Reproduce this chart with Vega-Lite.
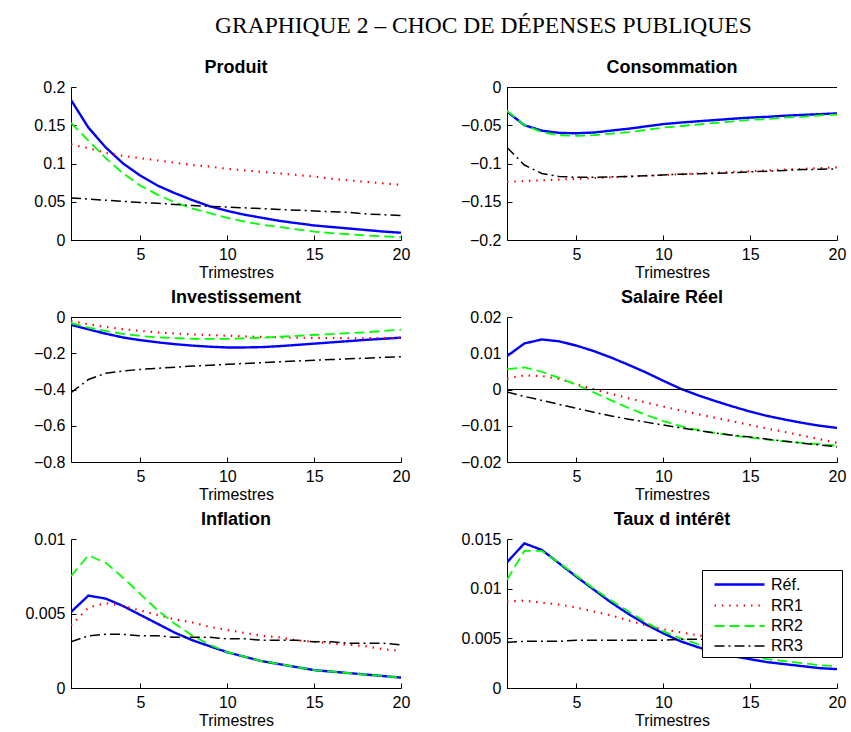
{
  "$schema": "https://vega.github.io/schema/vega-lite/v6.json",
  "background": "white",
  "padding": {"left": 24, "top": 13, "right": 5, "bottom": 2},
  "title": {"text": "GRAPHIQUE 2 – CHOC DE DÉPENSES PUBLIQUES", "font": "Liberation Serif", "fontSize": 23.5, "fontWeight": "normal", "color": "black", "anchor": "middle", "offset": 22, "dx": 48},
  "datasets": {
    "d": [
      {"panel":"Produit","serie":"Réf.","t":1,"v":0.183},{"panel":"Produit","serie":"Réf.","t":2,"v":0.147},{"panel":"Produit","serie":"Réf.","t":3,"v":0.121},{"panel":"Produit","serie":"Réf.","t":4,"v":0.100},{"panel":"Produit","serie":"Réf.","t":5,"v":0.084},{"panel":"Produit","serie":"Réf.","t":6,"v":0.071},{"panel":"Produit","serie":"Réf.","t":7,"v":0.061},{"panel":"Produit","serie":"Réf.","t":8,"v":0.052},{"panel":"Produit","serie":"Réf.","t":9,"v":0.044},{"panel":"Produit","serie":"Réf.","t":10,"v":0.038},{"panel":"Produit","serie":"Réf.","t":11,"v":0.033},{"panel":"Produit","serie":"Réf.","t":12,"v":0.029},{"panel":"Produit","serie":"Réf.","t":13,"v":0.025},{"panel":"Produit","serie":"Réf.","t":14,"v":0.022},{"panel":"Produit","serie":"Réf.","t":15,"v":0.019},{"panel":"Produit","serie":"Réf.","t":16,"v":0.017},{"panel":"Produit","serie":"Réf.","t":17,"v":0.015},{"panel":"Produit","serie":"Réf.","t":18,"v":0.013},{"panel":"Produit","serie":"Réf.","t":19,"v":0.011},{"panel":"Produit","serie":"Réf.","t":20,"v":0.0095},
      {"panel":"Produit","serie":"RR1","t":1,"v":0.125},{"panel":"Produit","serie":"RR1","t":2,"v":0.120},{"panel":"Produit","serie":"RR1","t":3,"v":0.114},{"panel":"Produit","serie":"RR1","t":4,"v":0.110},{"panel":"Produit","serie":"RR1","t":5,"v":0.107},{"panel":"Produit","serie":"RR1","t":6,"v":0.104},{"panel":"Produit","serie":"RR1","t":7,"v":0.101},{"panel":"Produit","serie":"RR1","t":8,"v":0.098},{"panel":"Produit","serie":"RR1","t":9,"v":0.096},{"panel":"Produit","serie":"RR1","t":10,"v":0.093},{"panel":"Produit","serie":"RR1","t":11,"v":0.091},{"panel":"Produit","serie":"RR1","t":12,"v":0.089},{"panel":"Produit","serie":"RR1","t":13,"v":0.087},{"panel":"Produit","serie":"RR1","t":14,"v":0.085},{"panel":"Produit","serie":"RR1","t":15,"v":0.083},{"panel":"Produit","serie":"RR1","t":16,"v":0.080},{"panel":"Produit","serie":"RR1","t":17,"v":0.078},{"panel":"Produit","serie":"RR1","t":18,"v":0.076},{"panel":"Produit","serie":"RR1","t":19,"v":0.074},{"panel":"Produit","serie":"RR1","t":20,"v":0.072},
      {"panel":"Produit","serie":"RR2","t":1,"v":0.153},{"panel":"Produit","serie":"RR2","t":2,"v":0.130},{"panel":"Produit","serie":"RR2","t":3,"v":0.107},{"panel":"Produit","serie":"RR2","t":4,"v":0.087},{"panel":"Produit","serie":"RR2","t":5,"v":0.071},{"panel":"Produit","serie":"RR2","t":6,"v":0.059},{"panel":"Produit","serie":"RR2","t":7,"v":0.049},{"panel":"Produit","serie":"RR2","t":8,"v":0.041},{"panel":"Produit","serie":"RR2","t":9,"v":0.035},{"panel":"Produit","serie":"RR2","t":10,"v":0.029},{"panel":"Produit","serie":"RR2","t":11,"v":0.024},{"panel":"Produit","serie":"RR2","t":12,"v":0.020},{"panel":"Produit","serie":"RR2","t":13,"v":0.017},{"panel":"Produit","serie":"RR2","t":14,"v":0.014},{"panel":"Produit","serie":"RR2","t":15,"v":0.011},{"panel":"Produit","serie":"RR2","t":16,"v":0.009},{"panel":"Produit","serie":"RR2","t":17,"v":0.0075},{"panel":"Produit","serie":"RR2","t":18,"v":0.006},{"panel":"Produit","serie":"RR2","t":19,"v":0.0047},{"panel":"Produit","serie":"RR2","t":20,"v":0.0035},
      {"panel":"Produit","serie":"RR3","t":1,"v":0.055},{"panel":"Produit","serie":"RR3","t":2,"v":0.0535},{"panel":"Produit","serie":"RR3","t":3,"v":0.052},{"panel":"Produit","serie":"RR3","t":4,"v":0.0505},{"panel":"Produit","serie":"RR3","t":5,"v":0.049},{"panel":"Produit","serie":"RR3","t":6,"v":0.048},{"panel":"Produit","serie":"RR3","t":7,"v":0.0465},{"panel":"Produit","serie":"RR3","t":8,"v":0.045},{"panel":"Produit","serie":"RR3","t":9,"v":0.044},{"panel":"Produit","serie":"RR3","t":10,"v":0.043},{"panel":"Produit","serie":"RR3","t":11,"v":0.042},{"panel":"Produit","serie":"RR3","t":12,"v":0.041},{"panel":"Produit","serie":"RR3","t":13,"v":0.040},{"panel":"Produit","serie":"RR3","t":14,"v":0.039},{"panel":"Produit","serie":"RR3","t":15,"v":0.038},{"panel":"Produit","serie":"RR3","t":16,"v":0.037},{"panel":"Produit","serie":"RR3","t":17,"v":0.036},{"panel":"Produit","serie":"RR3","t":18,"v":0.034},{"panel":"Produit","serie":"RR3","t":19,"v":0.033},{"panel":"Produit","serie":"RR3","t":20,"v":0.032},

      {"panel":"Consommation","serie":"Réf.","t":1,"v":-0.032},{"panel":"Consommation","serie":"Réf.","t":2,"v":-0.050},{"panel":"Consommation","serie":"Réf.","t":3,"v":-0.057},{"panel":"Consommation","serie":"Réf.","t":4,"v":-0.060},{"panel":"Consommation","serie":"Réf.","t":5,"v":-0.0605},{"panel":"Consommation","serie":"Réf.","t":6,"v":-0.0595},{"panel":"Consommation","serie":"Réf.","t":7,"v":-0.057},{"panel":"Consommation","serie":"Réf.","t":8,"v":-0.0545},{"panel":"Consommation","serie":"Réf.","t":9,"v":-0.0515},{"panel":"Consommation","serie":"Réf.","t":10,"v":-0.0485},{"panel":"Consommation","serie":"Réf.","t":11,"v":-0.0465},{"panel":"Consommation","serie":"Réf.","t":12,"v":-0.0448},{"panel":"Consommation","serie":"Réf.","t":13,"v":-0.0432},{"panel":"Consommation","serie":"Réf.","t":14,"v":-0.0415},{"panel":"Consommation","serie":"Réf.","t":15,"v":-0.040},{"panel":"Consommation","serie":"Réf.","t":16,"v":-0.039},{"panel":"Consommation","serie":"Réf.","t":17,"v":-0.0375},{"panel":"Consommation","serie":"Réf.","t":18,"v":-0.0365},{"panel":"Consommation","serie":"Réf.","t":19,"v":-0.0355},{"panel":"Consommation","serie":"Réf.","t":20,"v":-0.0345},
      {"panel":"Consommation","serie":"RR1","t":1,"v":-0.124},{"panel":"Consommation","serie":"RR1","t":2,"v":-0.123},{"panel":"Consommation","serie":"RR1","t":3,"v":-0.122},{"panel":"Consommation","serie":"RR1","t":4,"v":-0.121},{"panel":"Consommation","serie":"RR1","t":5,"v":-0.120},{"panel":"Consommation","serie":"RR1","t":6,"v":-0.119},{"panel":"Consommation","serie":"RR1","t":7,"v":-0.118},{"panel":"Consommation","serie":"RR1","t":8,"v":-0.117},{"panel":"Consommation","serie":"RR1","t":9,"v":-0.116},{"panel":"Consommation","serie":"RR1","t":10,"v":-0.115},{"panel":"Consommation","serie":"RR1","t":11,"v":-0.114},{"panel":"Consommation","serie":"RR1","t":12,"v":-0.113},{"panel":"Consommation","serie":"RR1","t":13,"v":-0.112},{"panel":"Consommation","serie":"RR1","t":14,"v":-0.111},{"panel":"Consommation","serie":"RR1","t":15,"v":-0.110},{"panel":"Consommation","serie":"RR1","t":16,"v":-0.109},{"panel":"Consommation","serie":"RR1","t":17,"v":-0.108},{"panel":"Consommation","serie":"RR1","t":18,"v":-0.107},{"panel":"Consommation","serie":"RR1","t":19,"v":-0.106},{"panel":"Consommation","serie":"RR1","t":20,"v":-0.105},
      {"panel":"Consommation","serie":"RR2","t":1,"v":-0.031},{"panel":"Consommation","serie":"RR2","t":2,"v":-0.050},{"panel":"Consommation","serie":"RR2","t":3,"v":-0.059},{"panel":"Consommation","serie":"RR2","t":4,"v":-0.063},{"panel":"Consommation","serie":"RR2","t":5,"v":-0.064},{"panel":"Consommation","serie":"RR2","t":6,"v":-0.063},{"panel":"Consommation","serie":"RR2","t":7,"v":-0.061},{"panel":"Consommation","serie":"RR2","t":8,"v":-0.059},{"panel":"Consommation","serie":"RR2","t":9,"v":-0.056},{"panel":"Consommation","serie":"RR2","t":10,"v":-0.053},{"panel":"Consommation","serie":"RR2","t":11,"v":-0.051},{"panel":"Consommation","serie":"RR2","t":12,"v":-0.049},{"panel":"Consommation","serie":"RR2","t":13,"v":-0.047},{"panel":"Consommation","serie":"RR2","t":14,"v":-0.045},{"panel":"Consommation","serie":"RR2","t":15,"v":-0.043},{"panel":"Consommation","serie":"RR2","t":16,"v":-0.042},{"panel":"Consommation","serie":"RR2","t":17,"v":-0.040},{"panel":"Consommation","serie":"RR2","t":18,"v":-0.039},{"panel":"Consommation","serie":"RR2","t":19,"v":-0.037},{"panel":"Consommation","serie":"RR2","t":20,"v":-0.036},
      {"panel":"Consommation","serie":"RR3","t":1,"v":-0.079},{"panel":"Consommation","serie":"RR3","t":2,"v":-0.102},{"panel":"Consommation","serie":"RR3","t":3,"v":-0.113},{"panel":"Consommation","serie":"RR3","t":4,"v":-0.117},{"panel":"Consommation","serie":"RR3","t":5,"v":-0.118},{"panel":"Consommation","serie":"RR3","t":6,"v":-0.118},{"panel":"Consommation","serie":"RR3","t":7,"v":-0.1175},{"panel":"Consommation","serie":"RR3","t":8,"v":-0.117},{"panel":"Consommation","serie":"RR3","t":9,"v":-0.116},{"panel":"Consommation","serie":"RR3","t":10,"v":-0.115},{"panel":"Consommation","serie":"RR3","t":11,"v":-0.114},{"panel":"Consommation","serie":"RR3","t":12,"v":-0.1135},{"panel":"Consommation","serie":"RR3","t":13,"v":-0.113},{"panel":"Consommation","serie":"RR3","t":14,"v":-0.112},{"panel":"Consommation","serie":"RR3","t":15,"v":-0.111},{"panel":"Consommation","serie":"RR3","t":16,"v":-0.110},{"panel":"Consommation","serie":"RR3","t":17,"v":-0.109},{"panel":"Consommation","serie":"RR3","t":18,"v":-0.108},{"panel":"Consommation","serie":"RR3","t":19,"v":-0.1075},{"panel":"Consommation","serie":"RR3","t":20,"v":-0.107},

      {"panel":"Investissement","serie":"Réf.","t":1,"v":-0.044},{"panel":"Investissement","serie":"Réf.","t":2,"v":-0.068},{"panel":"Investissement","serie":"Réf.","t":3,"v":-0.092},{"panel":"Investissement","serie":"Réf.","t":4,"v":-0.113},{"panel":"Investissement","serie":"Réf.","t":5,"v":-0.128},{"panel":"Investissement","serie":"Réf.","t":6,"v":-0.140},{"panel":"Investissement","serie":"Réf.","t":7,"v":-0.150},{"panel":"Investissement","serie":"Réf.","t":8,"v":-0.158},{"panel":"Investissement","serie":"Réf.","t":9,"v":-0.164},{"panel":"Investissement","serie":"Réf.","t":10,"v":-0.168},{"panel":"Investissement","serie":"Réf.","t":11,"v":-0.168},{"panel":"Investissement","serie":"Réf.","t":12,"v":-0.166},{"panel":"Investissement","serie":"Réf.","t":13,"v":-0.161},{"panel":"Investissement","serie":"Réf.","t":14,"v":-0.154},{"panel":"Investissement","serie":"Réf.","t":15,"v":-0.147},{"panel":"Investissement","serie":"Réf.","t":16,"v":-0.140},{"panel":"Investissement","serie":"Réf.","t":17,"v":-0.133},{"panel":"Investissement","serie":"Réf.","t":18,"v":-0.126},{"panel":"Investissement","serie":"Réf.","t":19,"v":-0.120},{"panel":"Investissement","serie":"Réf.","t":20,"v":-0.114},
      {"panel":"Investissement","serie":"RR1","t":1,"v":-0.022},{"panel":"Investissement","serie":"RR1","t":2,"v":-0.040},{"panel":"Investissement","serie":"RR1","t":3,"v":-0.055},{"panel":"Investissement","serie":"RR1","t":4,"v":-0.067},{"panel":"Investissement","serie":"RR1","t":5,"v":-0.077},{"panel":"Investissement","serie":"RR1","t":6,"v":-0.085},{"panel":"Investissement","serie":"RR1","t":7,"v":-0.091},{"panel":"Investissement","serie":"RR1","t":8,"v":-0.096},{"panel":"Investissement","serie":"RR1","t":9,"v":-0.100},{"panel":"Investissement","serie":"RR1","t":10,"v":-0.103},{"panel":"Investissement","serie":"RR1","t":11,"v":-0.107},{"panel":"Investissement","serie":"RR1","t":12,"v":-0.110},{"panel":"Investissement","serie":"RR1","t":13,"v":-0.112},{"panel":"Investissement","serie":"RR1","t":14,"v":-0.114},{"panel":"Investissement","serie":"RR1","t":15,"v":-0.115},{"panel":"Investissement","serie":"RR1","t":16,"v":-0.116},{"panel":"Investissement","serie":"RR1","t":17,"v":-0.117},{"panel":"Investissement","serie":"RR1","t":18,"v":-0.117},{"panel":"Investissement","serie":"RR1","t":19,"v":-0.116},{"panel":"Investissement","serie":"RR1","t":20,"v":-0.115},
      {"panel":"Investissement","serie":"RR2","t":1,"v":-0.033},{"panel":"Investissement","serie":"RR2","t":2,"v":-0.058},{"panel":"Investissement","serie":"RR2","t":3,"v":-0.077},{"panel":"Investissement","serie":"RR2","t":4,"v":-0.093},{"panel":"Investissement","serie":"RR2","t":5,"v":-0.105},{"panel":"Investissement","serie":"RR2","t":6,"v":-0.112},{"panel":"Investissement","serie":"RR2","t":7,"v":-0.117},{"panel":"Investissement","serie":"RR2","t":8,"v":-0.120},{"panel":"Investissement","serie":"RR2","t":9,"v":-0.121},{"panel":"Investissement","serie":"RR2","t":10,"v":-0.121},{"panel":"Investissement","serie":"RR2","t":11,"v":-0.118},{"panel":"Investissement","serie":"RR2","t":12,"v":-0.114},{"panel":"Investissement","serie":"RR2","t":13,"v":-0.109},{"panel":"Investissement","serie":"RR2","t":14,"v":-0.104},{"panel":"Investissement","serie":"RR2","t":15,"v":-0.098},{"panel":"Investissement","serie":"RR2","t":16,"v":-0.094},{"panel":"Investissement","serie":"RR2","t":17,"v":-0.089},{"panel":"Investissement","serie":"RR2","t":18,"v":-0.084},{"panel":"Investissement","serie":"RR2","t":19,"v":-0.077},{"panel":"Investissement","serie":"RR2","t":20,"v":-0.070},
      {"panel":"Investissement","serie":"RR3","t":1,"v":-0.418},{"panel":"Investissement","serie":"RR3","t":2,"v":-0.345},{"panel":"Investissement","serie":"RR3","t":3,"v":-0.310},{"panel":"Investissement","serie":"RR3","t":4,"v":-0.298},{"panel":"Investissement","serie":"RR3","t":5,"v":-0.289},{"panel":"Investissement","serie":"RR3","t":6,"v":-0.283},{"panel":"Investissement","serie":"RR3","t":7,"v":-0.277},{"panel":"Investissement","serie":"RR3","t":8,"v":-0.271},{"panel":"Investissement","serie":"RR3","t":9,"v":-0.266},{"panel":"Investissement","serie":"RR3","t":10,"v":-0.261},{"panel":"Investissement","serie":"RR3","t":11,"v":-0.256},{"panel":"Investissement","serie":"RR3","t":12,"v":-0.252},{"panel":"Investissement","serie":"RR3","t":13,"v":-0.247},{"panel":"Investissement","serie":"RR3","t":14,"v":-0.243},{"panel":"Investissement","serie":"RR3","t":15,"v":-0.239},{"panel":"Investissement","serie":"RR3","t":16,"v":-0.235},{"panel":"Investissement","serie":"RR3","t":17,"v":-0.231},{"panel":"Investissement","serie":"RR3","t":18,"v":-0.227},{"panel":"Investissement","serie":"RR3","t":19,"v":-0.223},{"panel":"Investissement","serie":"RR3","t":20,"v":-0.219},

      {"panel":"Salaire Réel","serie":"Réf.","t":1,"v":0.0092},{"panel":"Salaire Réel","serie":"Réf.","t":2,"v":0.0127},{"panel":"Salaire Réel","serie":"Réf.","t":3,"v":0.0138},{"panel":"Salaire Réel","serie":"Réf.","t":4,"v":0.0133},{"panel":"Salaire Réel","serie":"Réf.","t":5,"v":0.0121},{"panel":"Salaire Réel","serie":"Réf.","t":6,"v":0.0106},{"panel":"Salaire Réel","serie":"Réf.","t":7,"v":0.0088},{"panel":"Salaire Réel","serie":"Réf.","t":8,"v":0.0068},{"panel":"Salaire Réel","serie":"Réf.","t":9,"v":0.0047},{"panel":"Salaire Réel","serie":"Réf.","t":10,"v":0.0024},{"panel":"Salaire Réel","serie":"Réf.","t":11,"v":0.0002},{"panel":"Salaire Réel","serie":"Réf.","t":12,"v":-0.0016},{"panel":"Salaire Réel","serie":"Réf.","t":13,"v":-0.0032},{"panel":"Salaire Réel","serie":"Réf.","t":14,"v":-0.0047},{"panel":"Salaire Réel","serie":"Réf.","t":15,"v":-0.0061},{"panel":"Salaire Réel","serie":"Réf.","t":16,"v":-0.0073},{"panel":"Salaire Réel","serie":"Réf.","t":17,"v":-0.0083},{"panel":"Salaire Réel","serie":"Réf.","t":18,"v":-0.0092},{"panel":"Salaire Réel","serie":"Réf.","t":19,"v":-0.0100},{"panel":"Salaire Réel","serie":"Réf.","t":20,"v":-0.0106},
      {"panel":"Salaire Réel","serie":"RR1","t":1,"v":0.0030},{"panel":"Salaire Réel","serie":"RR1","t":2,"v":0.0039},{"panel":"Salaire Réel","serie":"RR1","t":3,"v":0.0037},{"panel":"Salaire Réel","serie":"RR1","t":4,"v":0.0029},{"panel":"Salaire Réel","serie":"RR1","t":5,"v":0.0015},{"panel":"Salaire Réel","serie":"RR1","t":6,"v":0.0001},{"panel":"Salaire Réel","serie":"RR1","t":7,"v":-0.0012},{"panel":"Salaire Réel","serie":"RR1","t":8,"v":-0.0024},{"panel":"Salaire Réel","serie":"RR1","t":9,"v":-0.0036},{"panel":"Salaire Réel","serie":"RR1","t":10,"v":-0.0047},{"panel":"Salaire Réel","serie":"RR1","t":11,"v":-0.0058},{"panel":"Salaire Réel","serie":"RR1","t":12,"v":-0.0068},{"panel":"Salaire Réel","serie":"RR1","t":13,"v":-0.0078},{"panel":"Salaire Réel","serie":"RR1","t":14,"v":-0.0088},{"panel":"Salaire Réel","serie":"RR1","t":15,"v":-0.0098},{"panel":"Salaire Réel","serie":"RR1","t":16,"v":-0.0108},{"panel":"Salaire Réel","serie":"RR1","t":17,"v":-0.0117},{"panel":"Salaire Réel","serie":"RR1","t":18,"v":-0.0127},{"panel":"Salaire Réel","serie":"RR1","t":19,"v":-0.0137},{"panel":"Salaire Réel","serie":"RR1","t":20,"v":-0.0147},
      {"panel":"Salaire Réel","serie":"RR2","t":1,"v":0.0056},{"panel":"Salaire Réel","serie":"RR2","t":2,"v":0.0061},{"panel":"Salaire Réel","serie":"RR2","t":3,"v":0.0049},{"panel":"Salaire Réel","serie":"RR2","t":4,"v":0.0032},{"panel":"Salaire Réel","serie":"RR2","t":5,"v":0.0013},{"panel":"Salaire Réel","serie":"RR2","t":6,"v":-0.0008},{"panel":"Salaire Réel","serie":"RR2","t":7,"v":-0.0030},{"panel":"Salaire Réel","serie":"RR2","t":8,"v":-0.0051},{"panel":"Salaire Réel","serie":"RR2","t":9,"v":-0.0070},{"panel":"Salaire Réel","serie":"RR2","t":10,"v":-0.0087},{"panel":"Salaire Réel","serie":"RR2","t":11,"v":-0.0101},{"panel":"Salaire Réel","serie":"RR2","t":12,"v":-0.0112},{"panel":"Salaire Réel","serie":"RR2","t":13,"v":-0.0120},{"panel":"Salaire Réel","serie":"RR2","t":14,"v":-0.0127},{"panel":"Salaire Réel","serie":"RR2","t":15,"v":-0.0133},{"panel":"Salaire Réel","serie":"RR2","t":16,"v":-0.0138},{"panel":"Salaire Réel","serie":"RR2","t":17,"v":-0.0143},{"panel":"Salaire Réel","serie":"RR2","t":18,"v":-0.0147},{"panel":"Salaire Réel","serie":"RR2","t":19,"v":-0.0151},{"panel":"Salaire Réel","serie":"RR2","t":20,"v":-0.0155},
      {"panel":"Salaire Réel","serie":"RR3","t":1,"v":-0.0007},{"panel":"Salaire Réel","serie":"RR3","t":2,"v":-0.0019},{"panel":"Salaire Réel","serie":"RR3","t":3,"v":-0.0030},{"panel":"Salaire Réel","serie":"RR3","t":4,"v":-0.0041},{"panel":"Salaire Réel","serie":"RR3","t":5,"v":-0.0052},{"panel":"Salaire Réel","serie":"RR3","t":6,"v":-0.0063},{"panel":"Salaire Réel","serie":"RR3","t":7,"v":-0.0073},{"panel":"Salaire Réel","serie":"RR3","t":8,"v":-0.0082},{"panel":"Salaire Réel","serie":"RR3","t":9,"v":-0.0090},{"panel":"Salaire Réel","serie":"RR3","t":10,"v":-0.0098},{"panel":"Salaire Réel","serie":"RR3","t":11,"v":-0.0106},{"panel":"Salaire Réel","serie":"RR3","t":12,"v":-0.0113},{"panel":"Salaire Réel","serie":"RR3","t":13,"v":-0.0120},{"panel":"Salaire Réel","serie":"RR3","t":14,"v":-0.0126},{"panel":"Salaire Réel","serie":"RR3","t":15,"v":-0.0131},{"panel":"Salaire Réel","serie":"RR3","t":16,"v":-0.0137},{"panel":"Salaire Réel","serie":"RR3","t":17,"v":-0.0143},{"panel":"Salaire Réel","serie":"RR3","t":18,"v":-0.0148},{"panel":"Salaire Réel","serie":"RR3","t":19,"v":-0.0153},{"panel":"Salaire Réel","serie":"RR3","t":20,"v":-0.0158},

      {"panel":"Inflation","serie":"Réf.","t":1,"v":0.0051},{"panel":"Inflation","serie":"Réf.","t":2,"v":0.0062},{"panel":"Inflation","serie":"Réf.","t":3,"v":0.0060},{"panel":"Inflation","serie":"Réf.","t":4,"v":0.0055},{"panel":"Inflation","serie":"Réf.","t":5,"v":0.0049},{"panel":"Inflation","serie":"Réf.","t":6,"v":0.0043},{"panel":"Inflation","serie":"Réf.","t":7,"v":0.0037},{"panel":"Inflation","serie":"Réf.","t":8,"v":0.0032},{"panel":"Inflation","serie":"Réf.","t":9,"v":0.0028},{"panel":"Inflation","serie":"Réf.","t":10,"v":0.0024},{"panel":"Inflation","serie":"Réf.","t":11,"v":0.0021},{"panel":"Inflation","serie":"Réf.","t":12,"v":0.0018},{"panel":"Inflation","serie":"Réf.","t":13,"v":0.0016},{"panel":"Inflation","serie":"Réf.","t":14,"v":0.0014},{"panel":"Inflation","serie":"Réf.","t":15,"v":0.0012},{"panel":"Inflation","serie":"Réf.","t":16,"v":0.0011},{"panel":"Inflation","serie":"Réf.","t":17,"v":0.0010},{"panel":"Inflation","serie":"Réf.","t":18,"v":0.0009},{"panel":"Inflation","serie":"Réf.","t":19,"v":0.0008},{"panel":"Inflation","serie":"Réf.","t":20,"v":0.0007},
      {"panel":"Inflation","serie":"RR1","t":1,"v":0.0042},{"panel":"Inflation","serie":"RR1","t":2,"v":0.0054},{"panel":"Inflation","serie":"RR1","t":3,"v":0.0057},{"panel":"Inflation","serie":"RR1","t":4,"v":0.0055},{"panel":"Inflation","serie":"RR1","t":5,"v":0.0052},{"panel":"Inflation","serie":"RR1","t":6,"v":0.0049},{"panel":"Inflation","serie":"RR1","t":7,"v":0.0046},{"panel":"Inflation","serie":"RR1","t":8,"v":0.0044},{"panel":"Inflation","serie":"RR1","t":9,"v":0.0041},{"panel":"Inflation","serie":"RR1","t":10,"v":0.0039},{"panel":"Inflation","serie":"RR1","t":11,"v":0.0037},{"panel":"Inflation","serie":"RR1","t":12,"v":0.0035},{"panel":"Inflation","serie":"RR1","t":13,"v":0.0034},{"panel":"Inflation","serie":"RR1","t":14,"v":0.0032},{"panel":"Inflation","serie":"RR1","t":15,"v":0.0031},{"panel":"Inflation","serie":"RR1","t":16,"v":0.0030},{"panel":"Inflation","serie":"RR1","t":17,"v":0.0029},{"panel":"Inflation","serie":"RR1","t":18,"v":0.0028},{"panel":"Inflation","serie":"RR1","t":19,"v":0.0026},{"panel":"Inflation","serie":"RR1","t":20,"v":0.0025},
      {"panel":"Inflation","serie":"RR2","t":1,"v":0.0075},{"panel":"Inflation","serie":"RR2","t":2,"v":0.0089},{"panel":"Inflation","serie":"RR2","t":3,"v":0.0084},{"panel":"Inflation","serie":"RR2","t":4,"v":0.0074},{"panel":"Inflation","serie":"RR2","t":5,"v":0.0063},{"panel":"Inflation","serie":"RR2","t":6,"v":0.0052},{"panel":"Inflation","serie":"RR2","t":7,"v":0.0043},{"panel":"Inflation","serie":"RR2","t":8,"v":0.0035},{"panel":"Inflation","serie":"RR2","t":9,"v":0.0029},{"panel":"Inflation","serie":"RR2","t":10,"v":0.0024},{"panel":"Inflation","serie":"RR2","t":11,"v":0.0021},{"panel":"Inflation","serie":"RR2","t":12,"v":0.0018},{"panel":"Inflation","serie":"RR2","t":13,"v":0.0016},{"panel":"Inflation","serie":"RR2","t":14,"v":0.0014},{"panel":"Inflation","serie":"RR2","t":15,"v":0.0012},{"panel":"Inflation","serie":"RR2","t":16,"v":0.0011},{"panel":"Inflation","serie":"RR2","t":17,"v":0.0010},{"panel":"Inflation","serie":"RR2","t":18,"v":0.0009},{"panel":"Inflation","serie":"RR2","t":19,"v":0.0008},{"panel":"Inflation","serie":"RR2","t":20,"v":0.0007},
      {"panel":"Inflation","serie":"RR3","t":1,"v":0.0031},{"panel":"Inflation","serie":"RR3","t":2,"v":0.0035},{"panel":"Inflation","serie":"RR3","t":3,"v":0.0036},{"panel":"Inflation","serie":"RR3","t":4,"v":0.0036},{"panel":"Inflation","serie":"RR3","t":5,"v":0.0035},{"panel":"Inflation","serie":"RR3","t":6,"v":0.0035},{"panel":"Inflation","serie":"RR3","t":7,"v":0.0034},{"panel":"Inflation","serie":"RR3","t":8,"v":0.0034},{"panel":"Inflation","serie":"RR3","t":9,"v":0.0034},{"panel":"Inflation","serie":"RR3","t":10,"v":0.0033},{"panel":"Inflation","serie":"RR3","t":11,"v":0.0033},{"panel":"Inflation","serie":"RR3","t":12,"v":0.0032},{"panel":"Inflation","serie":"RR3","t":13,"v":0.0032},{"panel":"Inflation","serie":"RR3","t":14,"v":0.0032},{"panel":"Inflation","serie":"RR3","t":15,"v":0.0031},{"panel":"Inflation","serie":"RR3","t":16,"v":0.0031},{"panel":"Inflation","serie":"RR3","t":17,"v":0.0030},{"panel":"Inflation","serie":"RR3","t":18,"v":0.0030},{"panel":"Inflation","serie":"RR3","t":19,"v":0.0030},{"panel":"Inflation","serie":"RR3","t":20,"v":0.0029},

      {"panel":"Taux d intérêt","serie":"Réf.","t":1,"v":0.01265},{"panel":"Taux d intérêt","serie":"Réf.","t":2,"v":0.01456},{"panel":"Taux d intérêt","serie":"Réf.","t":3,"v":0.0139},{"panel":"Taux d intérêt","serie":"Réf.","t":4,"v":0.01255},{"panel":"Taux d intérêt","serie":"Réf.","t":5,"v":0.0112},{"panel":"Taux d intérêt","serie":"Réf.","t":6,"v":0.0099},{"panel":"Taux d intérêt","serie":"Réf.","t":7,"v":0.0086},{"panel":"Taux d intérêt","serie":"Réf.","t":8,"v":0.00745},{"panel":"Taux d intérêt","serie":"Réf.","t":9,"v":0.0064},{"panel":"Taux d intérêt","serie":"Réf.","t":10,"v":0.0055},{"panel":"Taux d intérêt","serie":"Réf.","t":11,"v":0.0047},{"panel":"Taux d intérêt","serie":"Réf.","t":12,"v":0.0041},{"panel":"Taux d intérêt","serie":"Réf.","t":13,"v":0.0036},{"panel":"Taux d intérêt","serie":"Réf.","t":14,"v":0.0032},{"panel":"Taux d intérêt","serie":"Réf.","t":15,"v":0.0029},{"panel":"Taux d intérêt","serie":"Réf.","t":16,"v":0.0026},{"panel":"Taux d intérêt","serie":"Réf.","t":17,"v":0.0024},{"panel":"Taux d intérêt","serie":"Réf.","t":18,"v":0.0022},{"panel":"Taux d intérêt","serie":"Réf.","t":19,"v":0.0020},{"panel":"Taux d intérêt","serie":"Réf.","t":20,"v":0.0019},
      {"panel":"Taux d intérêt","serie":"RR1","t":1,"v":0.0087},{"panel":"Taux d intérêt","serie":"RR1","t":2,"v":0.0088},{"panel":"Taux d intérêt","serie":"RR1","t":3,"v":0.0086},{"panel":"Taux d intérêt","serie":"RR1","t":4,"v":0.0084},{"panel":"Taux d intérêt","serie":"RR1","t":5,"v":0.0081},{"panel":"Taux d intérêt","serie":"RR1","t":6,"v":0.0077},{"panel":"Taux d intérêt","serie":"RR1","t":7,"v":0.0073},{"panel":"Taux d intérêt","serie":"RR1","t":8,"v":0.0068},{"panel":"Taux d intérêt","serie":"RR1","t":9,"v":0.0063},{"panel":"Taux d intérêt","serie":"RR1","t":10,"v":0.0059},{"panel":"Taux d intérêt","serie":"RR1","t":11,"v":0.0056},{"panel":"Taux d intérêt","serie":"RR1","t":12,"v":0.0053},{"panel":"Taux d intérêt","serie":"RR1","t":13,"v":0.0051},{"panel":"Taux d intérêt","serie":"RR1","t":14,"v":0.0049},{"panel":"Taux d intérêt","serie":"RR1","t":15,"v":0.0047},{"panel":"Taux d intérêt","serie":"RR1","t":16,"v":0.0046},{"panel":"Taux d intérêt","serie":"RR1","t":17,"v":0.0045},{"panel":"Taux d intérêt","serie":"RR1","t":18,"v":0.0044},{"panel":"Taux d intérêt","serie":"RR1","t":19,"v":0.0043},{"panel":"Taux d intérêt","serie":"RR1","t":20,"v":0.0042},
      {"panel":"Taux d intérêt","serie":"RR2","t":1,"v":0.0109},{"panel":"Taux d intérêt","serie":"RR2","t":2,"v":0.0138},{"panel":"Taux d intérêt","serie":"RR2","t":3,"v":0.0138},{"panel":"Taux d intérêt","serie":"RR2","t":4,"v":0.0126},{"panel":"Taux d intérêt","serie":"RR2","t":5,"v":0.0113},{"panel":"Taux d intérêt","serie":"RR2","t":6,"v":0.0100},{"panel":"Taux d intérêt","serie":"RR2","t":7,"v":0.0088},{"panel":"Taux d intérêt","serie":"RR2","t":8,"v":0.0077},{"panel":"Taux d intérêt","serie":"RR2","t":9,"v":0.0066},{"panel":"Taux d intérêt","serie":"RR2","t":10,"v":0.0057},{"panel":"Taux d intérêt","serie":"RR2","t":11,"v":0.0050},{"panel":"Taux d intérêt","serie":"RR2","t":12,"v":0.0044},{"panel":"Taux d intérêt","serie":"RR2","t":13,"v":0.0039},{"panel":"Taux d intérêt","serie":"RR2","t":14,"v":0.0035},{"panel":"Taux d intérêt","serie":"RR2","t":15,"v":0.0032},{"panel":"Taux d intérêt","serie":"RR2","t":16,"v":0.0029},{"panel":"Taux d intérêt","serie":"RR2","t":17,"v":0.0027},{"panel":"Taux d intérêt","serie":"RR2","t":18,"v":0.0025},{"panel":"Taux d intérêt","serie":"RR2","t":19,"v":0.0023},{"panel":"Taux d intérêt","serie":"RR2","t":20,"v":0.0022},
      {"panel":"Taux d intérêt","serie":"RR3","t":1,"v":0.0046},{"panel":"Taux d intérêt","serie":"RR3","t":2,"v":0.0047},{"panel":"Taux d intérêt","serie":"RR3","t":3,"v":0.0047},{"panel":"Taux d intérêt","serie":"RR3","t":4,"v":0.0047},{"panel":"Taux d intérêt","serie":"RR3","t":5,"v":0.0048},{"panel":"Taux d intérêt","serie":"RR3","t":6,"v":0.0048},{"panel":"Taux d intérêt","serie":"RR3","t":7,"v":0.0048},{"panel":"Taux d intérêt","serie":"RR3","t":8,"v":0.0048},{"panel":"Taux d intérêt","serie":"RR3","t":9,"v":0.0048},{"panel":"Taux d intérêt","serie":"RR3","t":10,"v":0.0048},{"panel":"Taux d intérêt","serie":"RR3","t":11,"v":0.0049},{"panel":"Taux d intérêt","serie":"RR3","t":12,"v":0.0049},{"panel":"Taux d intérêt","serie":"RR3","t":13,"v":0.0049},{"panel":"Taux d intérêt","serie":"RR3","t":14,"v":0.0049},{"panel":"Taux d intérêt","serie":"RR3","t":15,"v":0.0049},{"panel":"Taux d intérêt","serie":"RR3","t":16,"v":0.0049},{"panel":"Taux d intérêt","serie":"RR3","t":17,"v":0.0049},{"panel":"Taux d intérêt","serie":"RR3","t":18,"v":0.0049},{"panel":"Taux d intérêt","serie":"RR3","t":19,"v":0.0049},{"panel":"Taux d intérêt","serie":"RR3","t":20,"v":0.0049}
    ]
  },
  "columns": 2,
  "spacing": {"row": 9, "column": 50},
  "concat": [
    {"title": "Produit", "width": 330, "height": 153, "layer": [
      {"data": {"name": "d"}, "transform": [{"filter": "datum.panel === 'Produit'"}], "mark": {"type": "line", "clip": true},
       "encoding": {
        "x": {"field": "t", "type": "quantitative", "scale": {"domain": [1, 20], "nice": false, "zero": false}, "axis": {"values": [5, 10, 15, 20], "title": "Trimestres"}},
        "y": {"field": "v", "type": "quantitative", "scale": {"domain": [0, 0.2], "nice": false, "zero": false}, "axis": {"values": [0, 0.05, 0.1, 0.15, 0.2], "title": null, "format": ".3~g"}},
        "color": {"field": "serie", "type": "nominal", "scale": {"domain": ["Réf.", "RR1", "RR2", "RR3"], "range": ["#0000ff", "#ff0000", "#00ff00", "#000000"]}, "legend": {"orient": "none", "legendX": 631, "legendY": 483, "title": null}},
        "strokeDash": {"field": "serie", "type": "nominal", "scale": {"domain": ["Réf.", "RR1", "RR2", "RR3"], "range": [[1, 0], [1.5, 5.8], [10, 5], [10, 4, 2, 4]]}, "legend": {"orient": "none", "legendX": 631, "legendY": 483, "title": null}},
        "strokeWidth": {"field": "serie", "type": "nominal", "scale": {"domain": ["Réf.", "RR1", "RR2", "RR3"], "range": [2.4, 1.5, 2.4, 2]}, "legend": null}
       }},
      {"data": {"values": [{}]}, "mark": {"type": "rule", "color": "black", "strokeWidth": 1, "yOffset": 0.5}, "encoding": {"y": {"datum": 0, "type": "quantitative", "axis": {"values": [0, 0.05, 0.1, 0.15, 0.2], "title": null, "format": ".3~g"}}}}
    ]},
    {"title": "Consommation", "width": 330, "height": 153, "layer": [
      {"data": {"name": "d"}, "transform": [{"filter": "datum.panel === 'Consommation'"}], "mark": {"type": "line", "clip": true},
       "encoding": {
        "x": {"field": "t", "type": "quantitative", "scale": {"domain": [1, 20], "nice": false, "zero": false}, "axis": {"values": [5, 10, 15, 20], "title": "Trimestres"}},
        "y": {"field": "v", "type": "quantitative", "scale": {"domain": [-0.2, 0], "nice": false, "zero": false}, "axis": {"values": [-0.2, -0.15, -0.1, -0.05, 0], "title": null, "format": ".3~g"}},
        "color": {"field": "serie", "type": "nominal", "scale": {"domain": ["Réf.", "RR1", "RR2", "RR3"], "range": ["#0000ff", "#ff0000", "#00ff00", "#000000"]}, "legend": {"orient": "none", "legendX": 631, "legendY": 483, "title": null}},
        "strokeDash": {"field": "serie", "type": "nominal", "scale": {"domain": ["Réf.", "RR1", "RR2", "RR3"], "range": [[1, 0], [1.5, 5.8], [10, 5], [10, 4, 2, 4]]}, "legend": {"orient": "none", "legendX": 631, "legendY": 483, "title": null}},
        "strokeWidth": {"field": "serie", "type": "nominal", "scale": {"domain": ["Réf.", "RR1", "RR2", "RR3"], "range": [2.4, 1.5, 2.4, 2]}, "legend": null}
       }},
      {"data": {"values": [{}]}, "mark": {"type": "rule", "color": "black", "strokeWidth": 1, "yOffset": 0.5}, "encoding": {"y": {"datum": 0, "type": "quantitative", "axis": {"values": [-0.2, -0.15, -0.1, -0.05, 0], "title": null, "format": ".3~g"}}}}
    ]},
    {"title": "Investissement", "width": 330, "height": 145, "layer": [
      {"data": {"name": "d"}, "transform": [{"filter": "datum.panel === 'Investissement'"}], "mark": {"type": "line", "clip": true},
       "encoding": {
        "x": {"field": "t", "type": "quantitative", "scale": {"domain": [1, 20], "nice": false, "zero": false}, "axis": {"values": [5, 10, 15, 20], "title": "Trimestres"}},
        "y": {"field": "v", "type": "quantitative", "scale": {"domain": [-0.8, 0], "nice": false, "zero": false}, "axis": {"values": [-0.8, -0.6, -0.4, -0.2, 0], "title": null, "format": ".3~g"}},
        "color": {"field": "serie", "type": "nominal", "scale": {"domain": ["Réf.", "RR1", "RR2", "RR3"], "range": ["#0000ff", "#ff0000", "#00ff00", "#000000"]}, "legend": {"orient": "none", "legendX": 631, "legendY": 483, "title": null}},
        "strokeDash": {"field": "serie", "type": "nominal", "scale": {"domain": ["Réf.", "RR1", "RR2", "RR3"], "range": [[1, 0], [1.5, 5.8], [10, 5], [10, 4, 2, 4]]}, "legend": {"orient": "none", "legendX": 631, "legendY": 483, "title": null}},
        "strokeWidth": {"field": "serie", "type": "nominal", "scale": {"domain": ["Réf.", "RR1", "RR2", "RR3"], "range": [2.4, 1.5, 2.4, 2]}, "legend": null}
       }},
      {"data": {"values": [{}]}, "mark": {"type": "rule", "color": "black", "strokeWidth": 1, "yOffset": 0.5}, "encoding": {"y": {"datum": 0, "type": "quantitative", "axis": {"values": [-0.8, -0.6, -0.4, -0.2, 0], "title": null, "format": ".3~g"}}}}
    ]},
    {"title": "Salaire Réel", "width": 330, "height": 145, "layer": [
      {"data": {"name": "d"}, "transform": [{"filter": "datum.panel === 'Salaire Réel'"}], "mark": {"type": "line", "clip": true},
       "encoding": {
        "x": {"field": "t", "type": "quantitative", "scale": {"domain": [1, 20], "nice": false, "zero": false}, "axis": {"values": [5, 10, 15, 20], "title": "Trimestres"}},
        "y": {"field": "v", "type": "quantitative", "scale": {"domain": [-0.02, 0.02], "nice": false, "zero": false}, "axis": {"values": [-0.02, -0.01, 0, 0.01, 0.02], "title": null, "format": ".3~g"}},
        "color": {"field": "serie", "type": "nominal", "scale": {"domain": ["Réf.", "RR1", "RR2", "RR3"], "range": ["#0000ff", "#ff0000", "#00ff00", "#000000"]}, "legend": {"orient": "none", "legendX": 631, "legendY": 483, "title": null}},
        "strokeDash": {"field": "serie", "type": "nominal", "scale": {"domain": ["Réf.", "RR1", "RR2", "RR3"], "range": [[1, 0], [1.5, 5.8], [10, 5], [10, 4, 2, 4]]}, "legend": {"orient": "none", "legendX": 631, "legendY": 483, "title": null}},
        "strokeWidth": {"field": "serie", "type": "nominal", "scale": {"domain": ["Réf.", "RR1", "RR2", "RR3"], "range": [2.4, 1.5, 2.4, 2]}, "legend": null}
       }},
      {"data": {"values": [{}]}, "mark": {"type": "rule", "color": "black", "strokeWidth": 1}, "encoding": {"y": {"datum": 0, "type": "quantitative", "axis": {"values": [-0.02, -0.01, 0, 0.01, 0.02], "title": null, "format": ".3~g"}}}}
    ]},
    {"title": "Inflation", "width": 330, "height": 149, "layer": [
      {"data": {"name": "d"}, "transform": [{"filter": "datum.panel === 'Inflation'"}], "mark": {"type": "line", "clip": true},
       "encoding": {
        "x": {"field": "t", "type": "quantitative", "scale": {"domain": [1, 20], "nice": false, "zero": false}, "axis": {"values": [5, 10, 15, 20], "title": "Trimestres"}},
        "y": {"field": "v", "type": "quantitative", "scale": {"domain": [0, 0.01], "nice": false, "zero": false}, "axis": {"values": [0, 0.005, 0.01], "title": null, "format": ".3~g"}},
        "color": {"field": "serie", "type": "nominal", "scale": {"domain": ["Réf.", "RR1", "RR2", "RR3"], "range": ["#0000ff", "#ff0000", "#00ff00", "#000000"]}, "legend": {"orient": "none", "legendX": 631, "legendY": 483, "title": null}},
        "strokeDash": {"field": "serie", "type": "nominal", "scale": {"domain": ["Réf.", "RR1", "RR2", "RR3"], "range": [[1, 0], [1.5, 5.8], [10, 5], [10, 4, 2, 4]]}, "legend": {"orient": "none", "legendX": 631, "legendY": 483, "title": null}},
        "strokeWidth": {"field": "serie", "type": "nominal", "scale": {"domain": ["Réf.", "RR1", "RR2", "RR3"], "range": [2.4, 1.5, 2.4, 2]}, "legend": null}
       }},
      {"data": {"values": [{}]}, "mark": {"type": "rule", "color": "black", "strokeWidth": 1, "yOffset": 0.5}, "encoding": {"y": {"datum": 0, "type": "quantitative", "axis": {"values": [0, 0.005, 0.01], "title": null, "format": ".3~g"}}}}
    ]},
    {"title": "Taux d intérêt", "width": 330, "height": 149, "layer": [
      {"data": {"name": "d"}, "transform": [{"filter": "datum.panel === 'Taux d intérêt'"}], "mark": {"type": "line", "clip": true},
       "encoding": {
        "x": {"field": "t", "type": "quantitative", "scale": {"domain": [1, 20], "nice": false, "zero": false}, "axis": {"values": [5, 10, 15, 20], "title": "Trimestres"}},
        "y": {"field": "v", "type": "quantitative", "scale": {"domain": [0, 0.015], "nice": false, "zero": false}, "axis": {"values": [0, 0.005, 0.01, 0.015], "title": null, "format": ".3~g"}},
        "color": {"field": "serie", "type": "nominal", "scale": {"domain": ["Réf.", "RR1", "RR2", "RR3"], "range": ["#0000ff", "#ff0000", "#00ff00", "#000000"]}, "legend": {"orient": "none", "legendX": 631, "legendY": 483, "title": null}},
        "strokeDash": {"field": "serie", "type": "nominal", "scale": {"domain": ["Réf.", "RR1", "RR2", "RR3"], "range": [[1, 0], [1.5, 5.8], [10, 5], [10, 4, 2, 4]]}, "legend": {"orient": "none", "legendX": 631, "legendY": 483, "title": null}},
        "strokeWidth": {"field": "serie", "type": "nominal", "scale": {"domain": ["Réf.", "RR1", "RR2", "RR3"], "range": [2.4, 1.5, 2.4, 2]}, "legend": null}
       }},
      {"data": {"values": [{}]}, "mark": {"type": "rule", "color": "black", "strokeWidth": 1, "yOffset": 0.5}, "encoding": {"y": {"datum": 0, "type": "quantitative", "axis": {"values": [0, 0.005, 0.01, 0.015], "title": null, "format": ".3~g"}}}}
    ]}
  ],
  "config": {
    "font": "Liberation Sans",
    "view": {"stroke": null},
    "axis": {"grid": false, "domainColor": "black", "domainWidth": 1, "tickColor": "black", "tickSize": -5, "labelColor": "black", "labelFontSize": 16, "labelFont": "Liberation Sans", "titleFont": "Liberation Sans", "titleFontSize": 16, "titleFontWeight": "normal", "titleColor": "black", "labelFlush": false, "labelOverlap": false},
    "axisX": {"labelPadding": 11, "titlePadding": 2},
    "axisY": {"labelPadding": 11},
    "title": {"font": "Liberation Sans", "fontSize": 18, "fontWeight": "bold", "color": "black", "offset": 2},
    "legend": {"strokeColor": "black", "fillColor": "white", "padding": 3, "symbolType": "M-2.5,0H2.5M9.4,0L9.4,0", "symbolSize": 400, "symbolOffset": 23, "symbolStrokeWidth": 2.4, "labelFontSize": 16, "labelFont": "Liberation Sans", "labelColor": "black", "rowPadding": 1, "labelOffset": 20, "cornerRadius": 0}
  }
}
